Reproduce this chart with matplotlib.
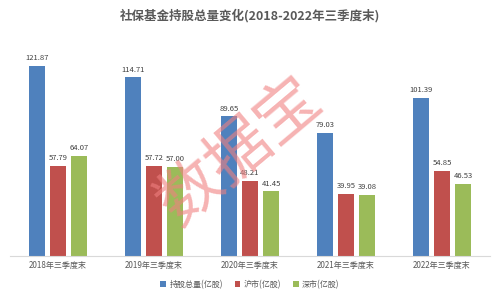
import matplotlib
matplotlib.use('Agg')
import matplotlib.pyplot as plt
import numpy as np

plt.rcParams['font.family'] = ['Noto Sans CJK SC', 'DejaVu Sans']

categories = ['2018年三季度末', '2019年三季度末', '2020年三季度末', '2021年三季度末', '2022年三季度末']
total = [121.87, 114.71, 89.65, 79.03, 101.39]
sh = [57.79, 57.72, 48.21, 39.95, 54.85]
sz = [64.07, 57.00, 41.45, 39.08, 46.53]
names = ['持股总量(亿股)', '沪市(亿股)', '深市(亿股)']
colors = ['#4F81BD', '#C0504D', '#9BBB59']

fig = plt.figure(figsize=(5, 3), dpi=100)
ax = fig.add_axes([0.02, 0.147, 0.96, 0.70])

x = np.arange(len(categories))
w = 0.17
step = 0.22
for i, (vals, name, c) in enumerate(zip([total, sh, sz], names, colors)):
    pos = x + (i - 1) * step
    ax.bar(pos, vals, w, color=c, label=name)
    for p, v in zip(pos, vals):
        ax.text(p, v + 2.5, '%.2f' % v, ha='center', va='bottom', fontsize=5.5, color='#404040')

ax.set_xlim(-0.5, len(categories) - 0.5)
ax.set_ylim(0, 135)
ax.set_yticks([])
ax.set_xticks(x)
ax.set_xticklabels(categories, fontsize=5.8, color='#595959')
ax.tick_params(axis='x', length=0, pad=4)
for s in ['top', 'right', 'left']:
    ax.spines[s].set_visible(False)
ax.spines['bottom'].set_color('#D9D9D9')

fig.text(0.5, 0.948, '社保基金持股总量变化(2018-2022年三季度末)', ha='center', va='center',
         fontsize=9, color='#595959', fontweight='bold')

ax.legend(loc='upper center', bbox_to_anchor=(0.5, -0.08), ncol=3, frameon=False,
          fontsize=5.8, handlelength=0.7, handleheight=0.7, columnspacing=1.5,
          handletextpad=0.4, labelcolor='#595959')

# watermark
fig.text(0.48, 0.495, '数据宝', ha='center', va='center', fontsize=46, rotation=40,
         color='#F08080', alpha=0.6)

fig.savefig('out.png', dpi=100)
